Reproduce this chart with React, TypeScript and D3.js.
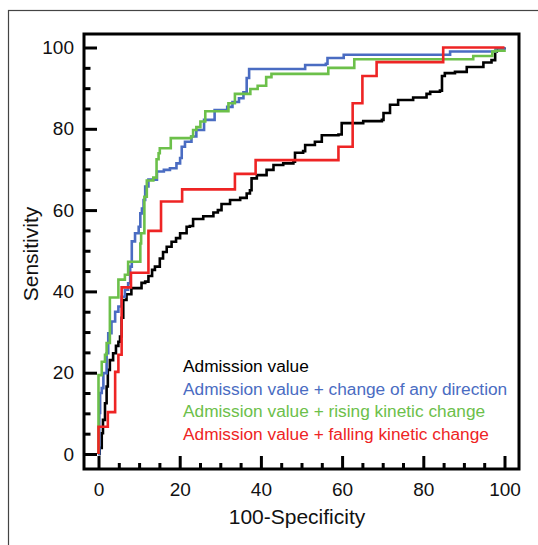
import { useEffect, useRef } from 'react';
import * as d3 from 'd3';

// ROC step points: [100-specificity, sensitivity]; the curve moves right to x, then up to y
const admission: [number, number][] = [
  [0, 0], [0.3, 1.5], [0.8, 5.1], [1.1, 8.4], [1.6, 12.5], [2.0, 16.6], [2.3, 20.7], [2.8, 23.1],
  [3.6, 24.8], [4.3, 26.6], [4.9, 27.6], [5.3, 28.9], [5.7, 33.5], [6.1, 37.9], [6.9, 39.3],
  [8.1, 40.8], [10.6, 42.1], [11.5, 42.4], [12.3, 43.8], [13.2, 45.3], [13.9, 46.1], [15.1, 48.1],
  [15.9, 49.7], [16.8, 51.0], [18.0, 52.2], [19.1, 53.1], [20.1, 54.3], [21.7, 55.9], [22.5, 56.1],
  [23.3, 57.8], [25.8, 58.5], [28.3, 59.4], [29.4, 60.0], [30.3, 61.5], [32.4, 62.5], [34.9, 63.0],
  [36.5, 64.1], [37.3, 64.9], [37.7, 67.8], [39.0, 68.6], [41.4, 69.9], [43.1, 71.1], [45.5, 71.5],
  [48.0, 71.9], [48.4, 74.1], [50.4, 74.5], [50.9, 76.0], [53.3, 76.8], [55.0, 78.4], [59.1, 78.6],
  [59.9, 81.4], [65.2, 81.9], [69.8, 82.2], [70.2, 83.9], [71.8, 85.9], [73.8, 87.1], [77.5, 87.7],
  [80.8, 88.6], [81.7, 89.1], [84.1, 89.4], [84.6, 93.0], [85.3, 93.7], [87.8, 94.0], [90.7, 95.2],
  [94.8, 96.3], [96.8, 96.9], [97.7, 99.0], [98.1, 99.8], [100, 100],
];

const anyDirection: [number, number][] = [
  [0, 0], [0.2, 10.1], [0.4, 15.0], [0.8, 16.2], [1.2, 19.9], [2.0, 24.8], [2.4, 29.7], [3.2, 32.6],
  [4.1, 35.0], [4.9, 36.3], [5.7, 38.7], [6.5, 40.4], [7.3, 42.0], [7.8, 46.1], [8.2, 52.3],
  [9.0, 54.3], [9.9, 55.9], [10.3, 59.2], [10.7, 60.4], [11.1, 62.5], [11.5, 65.8], [12.3, 67.5],
  [14.4, 69.5], [16.1, 69.9], [17.6, 70.3], [19.2, 71.5], [20.1, 72.8], [20.5, 75.6], [21.3, 76.8],
  [22.9, 78.1], [24.1, 79.7], [26.0, 82.2], [28.6, 84.6], [31.7, 85.4], [33.0, 86.6], [34.6, 87.5],
  [35.7, 89.0], [36.5, 92.5], [37.1, 94.7], [50.9, 95.7], [56.0, 96.0], [56.4, 97.4], [60.4, 98.2],
  [86.6, 99.0], [97.8, 99.8], [100, 100],
];

const rising: [number, number][] = [
  [0, 0], [0, 19.4], [0.8, 22.7], [1.6, 24.4], [2.0, 27.3], [2.8, 30.7], [2.8, 38.5], [4.9, 42.9],
  [6.5, 44.1], [7.3, 47.3], [10.3, 51.8], [10.5, 54.3], [11.3, 63.3], [11.9, 67.3], [13.5, 68.0],
  [14.3, 72.5], [14.8, 74.0], [15.1, 75.2], [17.8, 77.7], [22.8, 78.1], [23.3, 79.7], [24.1, 80.4],
  [25.1, 81.8], [26.3, 84.3], [32.0, 86.3], [33.6, 88.6], [37.4, 89.8], [39.2, 90.6], [41.3, 92.7],
  [42.6, 93.5], [56.6, 95.0], [63.0, 97.1], [92.3, 97.9], [97.0, 99.0], [97.7, 99.2], [100, 99.4],
];

const falling: [number, number][] = [
  [0, 0], [0, 6.7], [2.3, 10.3], [4.1, 20.2], [4.9, 24.4], [5.7, 41.0], [8.0, 44.6], [12.3, 54.9],
  [15.4, 62.1], [20.6, 65.1], [33.6, 68.9], [38.7, 72.3], [59.1, 75.6], [62.6, 86.3], [65.0, 93.0],
  [68.5, 96.4], [84.9, 100], [100, 100],
];

const seriesNames = [
  'Admission value',
  'Admission value + change of any direction',
  'Admission value + rising kinetic change',
  'Admission value + falling kinetic change',
];
const seriesColors = ['#000000', '#4a6cc2', '#6cc04a', '#ee2424'];
const seriesData = [admission, anyDirection, rising, falling];

const majorTicks = [0, 20, 40, 60, 80, 100];
const minorTicks = d3.range(0, 101, 5).filter(d => d % 20 !== 0);

const FONT = '"Liberation Sans", Arial, sans-serif';

export default function App() {
  const svgRef = useRef<SVGSVGElement>(null);

  useEffect(() => {
    const svg = d3.select(svgRef.current);
    svg.selectAll('*').remove();

    const frame = { left: 84, top: 34, right: 519, bottom: 469 };

    const x = d3.scaleLinear().domain([0, 100]).range([98.5, 504.5]);
    const y = d3.scaleLinear().domain([0, 100]).range([454, 47.5]);

    // outer figure border
    svg.append('rect')
      .attr('x', 8.5).attr('y', 10.5)
      .attr('width', 700).attr('height', 700)
      .attr('fill', 'none').attr('stroke', '#444').attr('stroke-width', 1.2);

    // curves
    const line = d3.line<[number, number]>()
      .x(d => x(d[0]))
      .y(d => y(d[1]))
      .curve(d3.curveStepAfter);

    seriesData.forEach((data, i) => {
      svg.append('path')
        .datum(data)
        .attr('d', line)
        .attr('fill', 'none')
        .attr('stroke', seriesColors[i])
        .attr('stroke-width', 2.6)
        .attr('stroke-linejoin', 'miter');
    });

    // axes (ticks point inward)
    const xAxis = svg.append('g')
      .attr('transform', `translate(0,${frame.bottom})`)
      .call(d3.axisBottom(x).tickValues(majorTicks).tickSize(-13).tickPadding(14));
    svg.append('g')
      .attr('transform', `translate(0,${frame.bottom})`)
      .call(d3.axisBottom(x).tickValues(minorTicks).tickSize(-6).tickFormat(() => ''));

    const yAxis = svg.append('g')
      .attr('transform', `translate(${frame.left},0)`)
      .call(d3.axisLeft(y).tickValues(majorTicks).tickSize(-13).tickPadding(10));
    svg.append('g')
      .attr('transform', `translate(${frame.left},0)`)
      .call(d3.axisLeft(y).tickValues(minorTicks).tickSize(-6.5).tickFormat(() => ''));

    svg.selectAll('.domain').remove();
    svg.selectAll('.tick line').attr('stroke', '#000').attr('stroke-width', 3);
    [xAxis, yAxis].forEach(a => a.selectAll('text')
      .attr('font-family', FONT)
      .attr('font-size', 19)
      .attr('fill', '#111'));

    // plot frame
    svg.append('rect')
      .attr('x', frame.left).attr('y', frame.top)
      .attr('width', frame.right - frame.left)
      .attr('height', frame.bottom - frame.top)
      .attr('fill', 'none').attr('stroke', '#000').attr('stroke-width', 3);

    // axis titles
    svg.append('text')
      .attr('x', 297).attr('y', 524)
      .attr('text-anchor', 'middle')
      .attr('font-family', FONT).attr('font-size', 21).attr('fill', '#111')
      .text('100-Specificity');

    svg.append('text')
      .attr('transform', 'translate(38,254) rotate(-90)')
      .attr('text-anchor', 'middle')
      .attr('font-family', FONT).attr('font-size', 21).attr('fill', '#111')
      .text('Sensitivity');

    // legend
    svg.selectAll('.legend')
      .data(seriesNames)
      .join('text')
      .attr('class', 'legend')
      .attr('x', 183)
      .attr('y', (d, i) => 371.7 + i * 22.8)
      .attr('font-family', FONT).attr('font-size', 17.3)
      .attr('fill', (d, i) => seriesColors[i])
      .text(d => d);
  }, []);

  return (
    <svg
      ref={svgRef}
      width={538}
      height={545}
      style={{ position: 'absolute', left: 0, top: 0, background: '#fff' }}
    />
  );
}
